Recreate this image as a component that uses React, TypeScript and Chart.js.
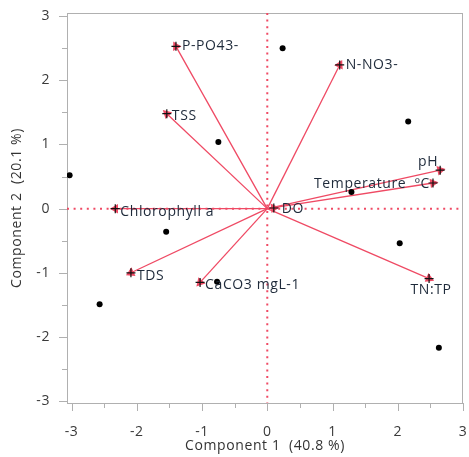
import React, { useEffect, useRef } from "react";
import { Chart, registerables } from "chart.js";

Chart.register(...registerables);

const xTitle = "Component 1  (40.8 %)";
const yTitle = "Component 2  (20.1 %)";

const xTicks = [-3, -2, -1, 0, 1, 2, 3];
const yTicks = [-3, -2, -1, 0, 1, 2, 3];

// PCA scores (observations)
const scoreX = [-3.03, -0.75, 0.235, 2.16, 1.29, -1.55, -2.57, -0.77, 2.03, 2.63];
const scoreY = [0.52, 1.04, 2.5, 1.36, 0.26, -0.36, -1.49, -1.14, -0.54, -2.17];

// Loadings (variables)
const variables = [
  "P-PO43-",
  "TSS",
  "Chlorophyll a",
  "N-NO3-",
  "pH",
  "Temperature  ºC",
  "DO",
  "TDS",
  "CaCO3 mgL-1",
  "TN:TP",
];
const loadX = [-1.4, -1.54, -2.33, 1.11, 2.65, 2.54, 0.1, -2.09, -1.03, 2.48];
const loadY = [2.53, 1.48, 0.0, 2.24, 0.6, 0.4, 0.01, -1.0, -1.15, -1.09];

// label placement (style): [align, dx, dy]
const labelPlace: [CanvasTextAlign, number, number][] = [
  ["left", 6, 0],
  ["left", 5, 2],
  ["left", 5, 3],
  ["left", 6, 0],
  ["right", -2, -8],
  ["right", -3, 1],
  ["left", 8, 1],
  ["left", 6, 3],
  ["left", 5, 3],
  ["center", 2, 11],
];

const FONT = "'Open Sans', 'Noto Sans', sans-serif";
const FS = 14;
const RED = "#ef4a64";
const TEXT = "#1e2a3a";
const W = 469;
const H = 457;

const framePlugin = {
  id: "frame",
  beforeInit(chart: any) {
    chart.ctx.letterSpacing = "0.6px";
  },
  beforeDraw(chart: any) {
    chart.ctx.letterSpacing = "0.6px";
  },
  beforeDatasetsDraw(chart: any) {
    const { ctx, chartArea: a, scales } = chart;
    ctx.save();
    ctx.strokeStyle = "#b0b0b0";
    ctx.lineWidth = 1;
    ctx.strokeRect(a.left + 0.5, a.top + 0.5, a.right - a.left - 1, a.bottom - a.top);
    const xs = scales.x, ys = scales.y;
    ctx.beginPath();
    for (let v = -3; v <= 3.001; v += 0.5) {
      const major = Math.abs(v - Math.round(v)) < 1e-6;
      const len = major ? 8 : 5;
      const px = Math.round(xs.getPixelForValue(v)) + 0.5;
      ctx.moveTo(px, a.bottom);
      ctx.lineTo(px, a.bottom + len);
      const py = Math.round(ys.getPixelForValue(v)) + 0.5;
      ctx.moveTo(a.left, py);
      ctx.lineTo(a.left - len, py);
    }
    ctx.stroke();
    ctx.restore();
  },
  afterDatasetsDraw(chart: any) {
    const { ctx, scales } = chart;
    const xs = scales.x, ys = scales.y;
    ctx.save();
    ctx.font = `${FS}px ${FONT}`;
    ctx.fillStyle = TEXT;
    ctx.textBaseline = "middle";
    variables.forEach((name, i) => {
      const [align, dx, dy] = labelPlace[i];
      ctx.textAlign = align;
      ctx.fillText(name, xs.getPixelForValue(loadX[i]) + dx, ys.getPixelForValue(loadY[i]) + dy);
    });
    ctx.restore();
  },
};

export default function App() {
  const ref = useRef<HTMLCanvasElement>(null);
  useEffect(() => {
    if (!ref.current) return;
    const vectorSets = variables.map((name, i) => ({
      type: "line" as const,
      label: name,
      data: [
        { x: 0, y: 0 },
        { x: loadX[i], y: loadY[i] },
      ],
      borderColor: RED,
      borderWidth: 1.3,
      backgroundColor: RED,
      pointBackgroundColor: RED,
      pointBorderColor: RED,
      pointBorderWidth: 0,
      pointStyle: "triangle",
      pointRadius: [0, 5.5],
      pointRotation: (c: any) => {
        if (c.dataIndex !== 1) return 0;
        const ch = c.chart;
        const p = c.dataset.data[1];
        const dx = ch.scales.x.getPixelForValue(p.x) - ch.scales.x.getPixelForValue(0);
        const dy = ch.scales.y.getPixelForValue(p.y) - ch.scales.y.getPixelForValue(0);
        return (Math.atan2(dx, -dy) * 180) / Math.PI;
      },
      fill: false,
      order: 2,
    }));
    const chart = new Chart(ref.current, {
      type: "scatter",
      data: {
        datasets: [
          {
            type: "line",
            label: "refx",
            data: [
              { x: -3.07, y: 0 },
              { x: 3.0, y: 0 },
            ],
            borderColor: RED,
            borderWidth: 2,
            borderDash: [2, 4.6],
            pointRadius: 0,
            order: 5,
          },
          {
            type: "line",
            label: "refy",
            data: [
              { x: 0, y: 3.05 },
              { x: 0, y: -3.03 },
            ],
            borderColor: RED,
            borderWidth: 2,
            borderDash: [2, 4.6],
            pointRadius: 0,
            order: 5,
          },
          ...vectorSets,
          {
            label: "crosses",
            data: loadX.map((x, i) => ({ x, y: loadY[i] })),
            pointStyle: "cross",
            pointRadius: 4.5,
            pointBorderColor: "#111",
            pointBorderWidth: 1.2,
            showLine: false,
            order: 1,
          },
          {
            label: "scores",
            data: scoreX.map((x, i) => ({ x, y: scoreY[i] })),
            pointStyle: "circle",
            pointRadius: 3,
            pointBackgroundColor: "#000",
            pointBorderColor: "#000",
            pointBorderWidth: 0,
            showLine: false,
            clip: 0,
            order: 0,
          },
        ] as any,
      },
      options: {
        responsive: false,
        animation: false,
        devicePixelRatio: 1,
        layout: { padding: { left: 0, top: 13, right: 6, bottom: 0 } },
        plugins: { legend: { display: false }, tooltip: { enabled: false } },
        scales: {
          x: {
            type: "linear",
            min: -3.07,
            max: 3.0,
            afterFit: (s: any) => {
              s.height = 54;
              s.paddingLeft = 0;
              s.paddingRight = 0;
            },
            afterBuildTicks: (s: any) => {
              s.ticks = xTicks.map((v) => ({ value: v }));
            },
            grid: { display: false },
            border: { display: false },
            ticks: {
              padding: 13,
              color: "#3a3a3a",
              font: { family: FONT, size: FS },
              maxRotation: 0,
            },
            title: {
              display: true,
              text: xTitle,
              color: "#333",
              font: { family: FONT, size: FS },
              padding: { top: 0, bottom: 3 },
            },
          },
          y: {
            type: "linear",
            min: -3.03,
            max: 3.05,
            afterFit: (s: any) => {
              s.width = 67;
              s.paddingTop = 0;
              s.paddingBottom = 0;
            },
            afterBuildTicks: (s: any) => {
              s.ticks = yTicks.map((v) => ({ value: v }));
            },
            grid: { display: false },
            border: { display: false },
            ticks: {
              padding: 9,
              color: "#3a3a3a",
              font: { family: FONT, size: FS },
            },
            title: {
              display: true,
              text: yTitle,
              color: "#333",
              font: { family: FONT, size: FS },
              padding: { top: 9, bottom: 0 },
            },
          },
        },
      },
      plugins: [framePlugin],
    });
    return () => chart.destroy();
  }, []);
  return (
    <div style={{ position: "fixed", left: 0, top: 0, width: W, height: H, background: "#fff" }}>
      <canvas ref={ref} width={W} height={H} style={{ display: "block", width: W, height: H }} />
    </div>
  );
}
